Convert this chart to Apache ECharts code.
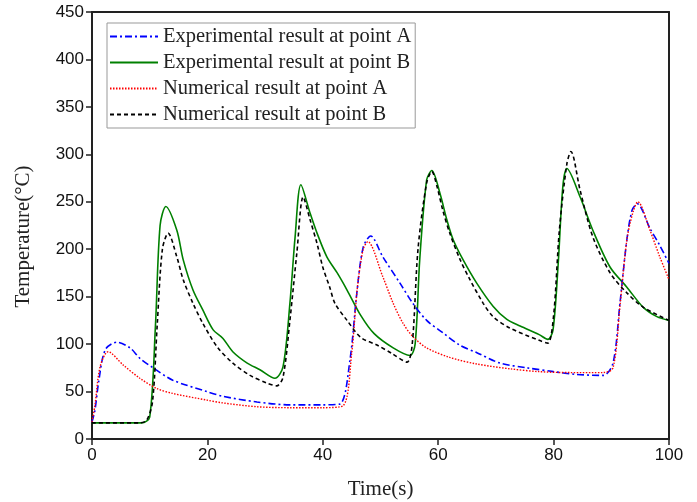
<!DOCTYPE html>
<html>
<head>
<meta charset="utf-8">
<script src="https://cdn.jsdelivr.net/npm/echarts@6/dist/echarts.min.js"></script>
<style>html,body{margin:0;padding:0;background:#fff}#c{width:697px;height:502px}</style>
</head>
<body>
<div id="c"></div>
<script>
const seriesNames = ['Experimental result at point A','Experimental result at point B','Numerical result at point A','Numerical result at point B'];
const xTicks = [0,20,40,60,80,100];
const yTicks = [0,50,100,150,200,250,300,350,400,450];

const expATime = [0,0.5,1.2,2.3,4.3,6.6,8.3,10.6,14,19.9,22.7,28.6,34.3,40,43,44.7,45.9,47,48.3,50.4,53.4,55.6,58,60.8,63.7,66.7,70.7,75.4,80,84,88.6,90.3,91.5,92.7,93.6,94.5,96.7,98.4,100];
const expAVal  = [18,30,62,94,102,96,85,75,62,50,45,39,36,36,37,83,154,202,214,192,164,143,125,112,99,91,80,75,71,68,67,80,143,210,241,248,222,204,185];

const expBTime = [0,8.6,10,11,11.8,12.8,14.7,15.8,17.5,19.2,21,22.7,24.4,26.9,29.1,31.7,33.1,34.3,35.2,36.2,37.8,39,40.7,42.5,44.2,46.6,48.9,52.2,55.1,56,56.8,58,58.9,60.3,61.5,62.6,64.3,66.7,69.5,71.9,74.2,77.5,79,79.9,80.8,81.6,82.3,84.6,86.8,89.8,92.7,95.5,97.9,100];
const expBVal  = [17,17,23,120,225,245,220,189,157,136,115,106,92,80,73,64,76,143,213,268,238,217,192,175,157,130,111,96,88,100,189,273,283,259,231,210,189,164,140,126,119,110,105,115,185,266,285,255,220,181,160,139,129,125];

const numATime = [0,0.5,1.4,2.8,5.4,8.3,11.3,14,19.9,22.7,28.6,34.3,40,43.5,45,46,47,47.8,50.4,52.2,53.9,55.6,58,62,66.7,72.4,77.5,83,88.6,90.3,91.5,92.7,93.8,94.6,96.7,98.4,100];
const numAVal  = [18,35,76,92,78,64,53,48,41,38,34,33,33,35,90,160,200,208,171,143,122,108,96,86,79,74,71,70,70,75,140,210,240,250,220,192,168];

const numBTime = [0,8.3,9.5,10.5,11.3,12.2,13.2,14.7,15.8,17.5,19.2,21.7,24.4,27.4,30.3,32,33.1,34.3,35.5,36.6,37.8,39,40,41.2,42.1,44.2,46.6,49.4,52,54.6,55.5,56.5,58,58.9,59.8,60.8,62,63.8,65.5,67.8,69.5,72.4,77.5,79,80,81,82.3,83,84.6,86.8,89.8,92.7,95.5,100];
const numBVal  = [17,17,20,40,120,200,217,192,168,143,122,97,80,67,59,56,65,125,196,255,231,206,181,160,143,125,107,99,90,81,100,200,270,282,266,241,217,189,168,143,129,117,104,101,130,220,290,303,262,213,175,154,139,125];

function pairs(t, v){ return t.map((x,i)=>[x, v[i]]); }

const chart = echarts.init(document.getElementById('c'), null, {renderer:'canvas'});
const sansFont = 'Liberation Sans';
const serifFont = 'Liberation Serif';
chart.setOption({
  animation:false,
  backgroundColor:'#fff',
  grid:{left:92,right:28,top:12,bottom:63,show:false,outerBoundsMode:'none',containLabel:false},
  legend:{
    orient:'vertical', left:107, top:23,
    itemWidth:48, itemHeight:10, itemGap:5,
    backgroundColor:'#fff', borderColor:'#999', borderWidth:1,
    padding:[3,4,3,2],
    itemStyle:{opacity:0},
    textStyle:{fontFamily:serifFont,fontSize:20.5,color:'#222'},
    data:seriesNames
  },
  xAxis:[{
    type:'value', min:0, max:100, interval:20, position:'bottom',
    name:'Time(s)', nameLocation:'middle', nameGap:40,
    nameTextStyle:{fontFamily:serifFont,fontSize:21,color:'#222'},
    axisLine:{show:true,onZero:false,lineStyle:{color:'#222',width:2}},
    axisTick:{show:true,inside:false,length:6,lineStyle:{color:'#222',width:1.5}},
    axisLabel:{fontFamily:sansFont,fontSize:17,color:'#111',margin:8},
    splitLine:{show:false}
  },{
    type:'value', min:0, max:100, position:'top',
    axisLine:{show:true,onZero:false,lineStyle:{color:'#222',width:2}},
    axisTick:{show:false}, axisLabel:{show:false}, splitLine:{show:false}
  }],
  yAxis:[{
    type:'value', min:0, max:450, interval:50, position:'left',
    name:'Temperature(\u00B0C)', nameLocation:'middle', nameGap:58, nameRotate:90,
    nameTextStyle:{fontFamily:serifFont,fontSize:21,color:'#222',padding:[0,22,0,0]},
    axisLine:{show:true,onZero:false,lineStyle:{color:'#222',width:2}},
    axisTick:{show:true,inside:false,length:6,lineStyle:{color:'#222',width:1.5}},
    axisLabel:{fontFamily:sansFont,fontSize:17,color:'#111',margin:8},
    splitLine:{show:false}
  },{
    type:'value', min:0, max:450, position:'right',
    axisLine:{show:true,onZero:false,lineStyle:{color:'#222',width:2}},
    axisTick:{show:false}, axisLabel:{show:false}, splitLine:{show:false}
  }],
  series:[
    {name:seriesNames[0], type:'line', data:pairs(expATime,expAVal), symbol:'none', smooth:0.3,
     lineStyle:{color:'#0000ff',width:1.6,type:[7,3,2,3]}, itemStyle:{color:'#0000ff'}, z:4},
    {name:seriesNames[1], type:'line', data:pairs(expBTime,expBVal), symbol:'none', smooth:0.3,
     lineStyle:{color:'#008000',width:1.6,type:'solid'}, itemStyle:{color:'#008000'}, z:3},
    {name:seriesNames[2], type:'line', data:pairs(numATime,numAVal), symbol:'none', smooth:0.3,
     lineStyle:{color:'#ff0000',width:1.4,type:[1.5,1.5]}, itemStyle:{color:'#ff0000'}, z:5},
    {name:seriesNames[3], type:'line', data:pairs(numBTime,numBVal), symbol:'none', smooth:0.3,
     lineStyle:{color:'#000000',width:1.6,type:[4,3]}, itemStyle:{color:'#000000'}, z:6}
  ]
});
</script>
</body>
</html>
